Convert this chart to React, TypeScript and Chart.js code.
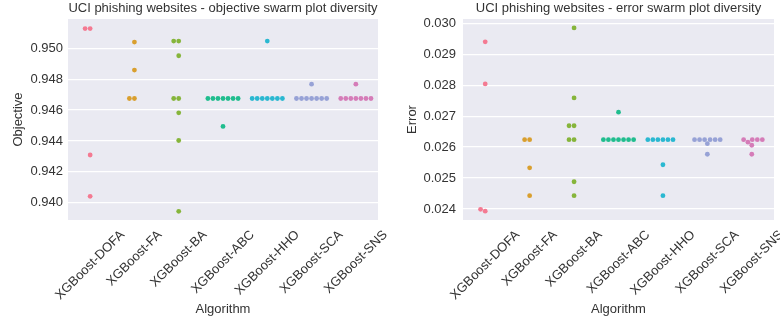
import React, { useEffect, useRef } from "react";
import { Chart, registerables } from "chart.js";

Chart.register(...registerables);

const FONT = "'Liberation Sans', Arial, Helvetica, sans-serif";
const TEXT = "#333333";

const algorithms = [
  "XGBoost-DOFA",
  "XGBoost-FA",
  "XGBoost-BA",
  "XGBoost-ABC",
  "XGBoost-HHO",
  "XGBoost-SCA",
  "XGBoost-SNS",
];

const colors = ["#f47a92", "#d99f2e", "#86b53b", "#20bd8e", "#2ab8d1", "#97a2d6", "#d57cb8"];

// Objective value per run
const objectiveDOFA = [0.95128, 0.95128, 0.94309, 0.94041];
const objectiveFA = [0.95041, 0.94859, 0.94675, 0.94675];
const objectiveBA = [0.95047, 0.95047, 0.94952, 0.94675, 0.94675, 0.94582, 0.94403, 0.93944];
const objectiveABC = [0.94675, 0.94675, 0.94675, 0.94675, 0.94675, 0.94675, 0.94675, 0.94494];
const objectiveHHO = [0.95047, 0.94675, 0.94675, 0.94675, 0.94675, 0.94675, 0.94675, 0.94675];
const objectiveSCA = [0.94768, 0.94675, 0.94675, 0.94675, 0.94675, 0.94675, 0.94675, 0.94675];
const objectiveSNS = [0.94768, 0.94675, 0.94675, 0.94675, 0.94675, 0.94675, 0.94675, 0.94675];

// Error value per run
const errorDOFA = [0.0294, 0.02804, 0.02399, 0.02393];
const errorFA = [0.02624, 0.02624, 0.02533, 0.02443];
const errorBA = [0.02985, 0.02759, 0.02669, 0.02669, 0.02624, 0.02624, 0.02488, 0.02443];
const errorABC = [0.02713, 0.02624, 0.02624, 0.02624, 0.02624, 0.02624, 0.02624, 0.02624];
const errorHHO = [0.02624, 0.02624, 0.02624, 0.02624, 0.02624, 0.02624, 0.02543, 0.02443];
const errorSCA = [0.02624, 0.02624, 0.02624, 0.02624, 0.02624, 0.02624, 0.02611, 0.02577];
const errorSNS = [0.02624, 0.02624, 0.02624, 0.02624, 0.02616, 0.02606, 0.02577];

const objectiveTicks = [0.94, 0.942, 0.944, 0.946, 0.948, 0.95];
const errorTicks = [0.024, 0.025, 0.026, 0.027, 0.028, 0.029, 0.03];

const objectiveValues = [objectiveDOFA, objectiveFA, objectiveBA, objectiveABC, objectiveHHO, objectiveSCA, objectiveSNS];
const errorValues = [errorDOFA, errorFA, errorBA, errorABC, errorHHO, errorSCA, errorSNS];

const POINT_R = 2.4;

// Beeswarm placement in pixel space: points are placed in ascending value order,
// each as close to the category centre as possible without overlapping.
function swarmOffsets(ys: number[], r: number): number[] {
  const d = 2 * r;
  const order = ys.map((_, i) => i).sort((a, b) => ys[b] - ys[a]);
  const placed: { x: number; y: number }[] = [];
  const out = new Array(ys.length).fill(0);
  for (const i of order) {
    const y = ys[i];
    const neighbors = placed.filter((p) => Math.abs(p.y - y) < d);
    const cands: number[] = [0];
    let leftFirst = true;
    for (const p of neighbors) {
      const dy = y - p.y;
      const dx = Math.sqrt(Math.max(d * d - dy * dy, 0)) * 1.05;
      const pair = [p.x - dx, p.x + dx];
      if (!leftFirst) pair.reverse();
      cands.push(...pair);
      leftFirst = !leftFirst;
    }
    const sorted = cands
      .map((c, k) => ({ c, k }))
      .sort((a, b) => Math.abs(a.c) - Math.abs(b.c) || a.k - b.k);
    let chosen = 0;
    for (const { c } of sorted) {
      if (neighbors.every((p) => (p.x - c) ** 2 + (p.y - y) ** 2 >= d * d * 0.999)) {
        chosen = c;
        break;
      }
    }
    placed.push({ x: chosen, y });
    out[i] = chosen;
  }
  return out;
}

const plotBackground = {
  id: "plotBackground",
  beforeDraw(chart: any) {
    const { ctx, chartArea } = chart;
    ctx.save();
    ctx.fillStyle = "#eaeaf2";
    ctx.fillRect(chartArea.left, chartArea.top, chartArea.right - chartArea.left, chartArea.bottom - chartArea.top);
    ctx.restore();
  },
};

// Category labels rotated 45 degrees, centred under each category
const rotatedLabels = {
  id: "rotatedLabels",
  afterDraw(chart: any) {
    const { ctx, chartArea } = chart;
    const xs = chart.scales.x;
    ctx.save();
    ctx.font = `13px ${FONT}`;
    ctx.fillStyle = TEXT;
    ctx.textAlign = "center";
    ctx.textBaseline = "middle";
    algorithms.forEach((label, i) => {
      const w = ctx.measureText(label).width;
      const cx = xs.getPixelForValue(i);
      const cy = chartArea.bottom + 7.5 + ((w + 15) * Math.SQRT1_2) / 2;
      ctx.save();
      ctx.translate(cx, cy);
      ctx.rotate(-Math.PI / 4);
      ctx.fillText(label, 0, 0);
      ctx.restore();
    });
    ctx.restore();
  },
};

type SwarmProps = {
  title: string;
  yLabel: string;
  values: number[][];
  yMin: number;
  yMax: number;
  yTicks: number[];
  axisWidth: number;
  padRight: number;
  tickPad: number;
  yTitlePad: number;
};

function SwarmChart(props: SwarmProps) {
  const ref = useRef<HTMLCanvasElement | null>(null);
  useEffect(() => {
    if (!ref.current) return;
    const datasets = props.values.map((vals, i) => ({
      label: algorithms[i],
      data: vals.map((v) => ({ x: i, y: v })),
      backgroundColor: colors[i],
      borderWidth: 0,
      pointRadius: POINT_R,
      pointHoverRadius: POINT_R,
    }));
    const chart = new Chart(ref.current, {
      type: "scatter",
      data: { datasets },
      plugins: [plotBackground, rotatedLabels],
      options: {
        responsive: false,
        animation: false,
        events: [],
        layout: { padding: { left: 0, right: props.padRight, top: 0, bottom: 0 } },
        plugins: {
          legend: { display: false },
          tooltip: { enabled: false },
          title: {
            display: true,
            text: props.title,
            fullSize: false,
            color: TEXT,
            font: { family: FONT, size: 13, weight: "normal" },
            padding: { top: 1, bottom: 2.4 },
          },
        },
        scales: {
          x: {
            type: "linear",
            min: -0.5,
            max: 6.5,
            afterBuildTicks: (s: any) => {
              s.ticks = algorithms.map((_, i) => ({ value: i }));
            },
            afterFit: (s: any) => {
              s.height = 101;
            },
            ticks: { display: false },
            grid: { display: false },
            border: { display: false },
            title: {
              display: true,
              text: "Algorithm",
              color: TEXT,
              font: { family: FONT, size: 13 },
              padding: { top: 0, bottom: 4 },
            },
          },
          y: {
            type: "linear",
            min: props.yMin,
            max: props.yMax,
            afterBuildTicks: (s: any) => {
              s.ticks = props.yTicks.map((v) => ({ value: v }));
            },
            afterFit: (s: any) => {
              s.width = props.axisWidth;
            },
            ticks: {
              padding: props.tickPad,
              color: TEXT,
              font: { family: FONT, size: 13 },
              callback: (v: any) => Number(v).toFixed(3),
            },
            grid: { color: "#ffffff", lineWidth: 1.3, drawTicks: false },
            border: { display: false },
            title: {
              display: true,
              text: props.yLabel,
              color: TEXT,
              font: { family: FONT, size: 13 },
              padding: { top: props.yTitlePad, bottom: 0 },
            },
          },
        },
      },
    } as any);

    // spread overlapping points sideways once the scales are known
    const ys = chart.scales.y as any;
    const xs = chart.scales.x as any;
    const unit = xs.getPixelForValue(1) - xs.getPixelForValue(0);
    props.values.forEach((vals, i) => {
      const pix = vals.map((v) => ys.getPixelForValue(v));
      const offs = swarmOffsets(pix, POINT_R);
      (chart.data.datasets[i] as any).data = vals.map((v, k) => ({ x: i + offs[k] / unit, y: v }));
    });
    chart.update();
    return () => chart.destroy();
  }, []);
  return <canvas ref={ref} width={390} height={321} style={{ display: "block", width: 390, height: 321 }} />;
}

export default function App() {
  return (
    <div style={{ position: "fixed", left: 0, top: 0, width: 780, height: 321, display: "flex", background: "#ffffff" }}>
      <SwarmChart
        title="UCI phishing websites - objective swarm plot diversity"
        yLabel="Objective"
        values={objectiveValues}
        yMin={0.938877}
        yMax={0.951903}
        yTicks={objectiveTicks}
        axisWidth={68}
        padRight={12}
        tickPad={5}
        yTitlePad={11}
      />
      <SwarmChart
        title="UCI phishing websites - error swarm plot diversity"
        yLabel="Error"
        values={errorValues}
        yMin={0.023645}
        yMax={0.030139}
        yTicks={errorTicks}
        axisWidth={73}
        padRight={6}
        tickPad={7}
        yTitlePad={15}
      />
    </div>
  );
}
